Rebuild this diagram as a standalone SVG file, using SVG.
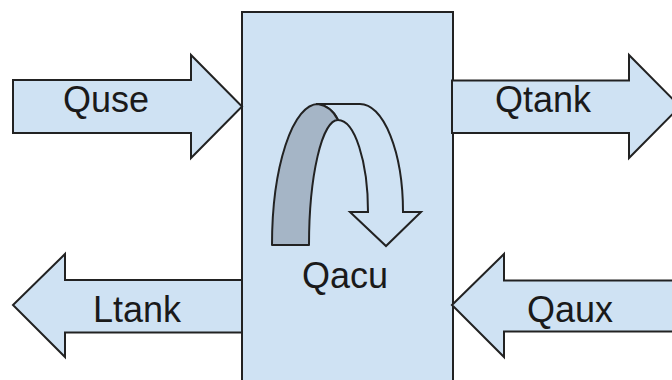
<svg xmlns="http://www.w3.org/2000/svg" width="672" height="380" viewBox="0 0 672 380">
  <style>
    .shape { fill: #cfe2f3; stroke: #222; stroke-width: 2; stroke-linejoin: miter; }
    .back { fill: #a5b5c6; stroke: #222; stroke-width: 2; stroke-linejoin: round; }
    .label { font-family: "Liberation Sans", Arial, sans-serif; font-size: 36px; fill: #1a1a1a; }
  </style>
  <rect width="672" height="380" fill="#ffffff"/>

  <!-- accumulator block -->
  <g id="acu">
    <rect class="shape" x="242" y="12" width="211" height="380"/>
    <!-- curved down arrow: white front arch, shaded back band -->
    <path class="shape" stroke-linejoin="round" d="M316,104 L360,104 A43,108 0 0 1 403,212 L421,212 L386,246 L350,212 L368,212 A30,92 0 0 0 338,120 Q332,106 316,104 Z"/>
    <path class="back" d="M272,245 A46,141 0 0 1 318,104 Q331,106 338,120 A29,125 0 0 0 309,245 Z"/>
    <text class="label" x="302" y="288">Qacu</text>
  </g>

  <!-- flows -->
  <g id="connectors">
    <g id="quse">
      <path class="shape" d="M13,80 H191 V55 L242,106.5 L191,158 V133 H13 Z"/>
      <text class="label" x="63" y="112">Quse</text>
    </g>
    <g id="qtank">
      <path class="shape" d="M452,80.5 H629 V55 L680,106.5 L629,158 V133 H452 Z"/>
      <text class="label" x="495" y="112">Qtank</text>
    </g>
    <g id="ltank">
      <path class="shape" d="M242,280 H65 V254 L13,305 L65,357 V332.5 H242 Z"/>
      <text class="label" x="93" y="322">Ltank</text>
    </g>
    <g id="qaux">
      <path class="shape" d="M452,305 L504,254 V280.5 H690 V331.5 H504 V357 Z"/>
      <text class="label" x="527" y="322">Qaux</text>
    </g>
  </g>
</svg>
